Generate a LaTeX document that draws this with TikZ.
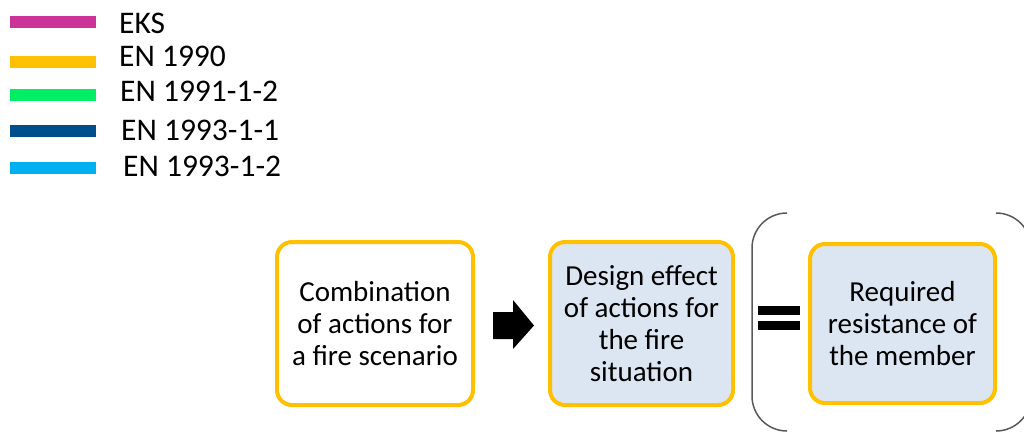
\documentclass[tikz,border=0pt]{standalone}
\usepackage{fontspec}
\setmainfont{Carlito}
\definecolor{eks}{HTML}{CC3399}
\definecolor{enA}{HTML}{FFC000}
\definecolor{enB}{HTML}{00EE66}
\definecolor{enC}{HTML}{004E8C}
\definecolor{enD}{HTML}{00B0F0}
\definecolor{boxfill}{HTML}{DCE6F2}
\definecolor{brk}{HTML}{595959}
\begin{document}
\begin{tikzpicture}[x=1pt,y=-1pt,
  legbar/.style={rectangle,inner sep=0pt,minimum width=86pt,minimum height=12pt},
  legtext/.style={anchor=base west,inner sep=0pt,font=\fontsize{31.5}{36}\selectfont},
  stepbox/.style={rectangle,rounded corners=15pt,draw=enA,line width=4pt,align=center,
    font=\fontsize{29}{32}\selectfont,inner sep=0pt},
  eqbar/.style={rectangle,fill=black,inner sep=0pt,minimum width=42pt,minimum height=9pt},
  brack/.style={draw=brk,line width=1.5pt,rounded corners=35pt},
  blockarrow/.style={fill=black}]
\useasboundingbox (0,0) rectangle (1024,432);
% legend
\node[legbar,fill=eks] (b1) at (53,22) {};
\node[legbar,fill=enA] (b2) at (52.5,62) {};
\node[legbar,fill=enB] (b3) at (53,95) {};
\node[legbar,fill=enC] (b4) at (52.5,131) {};
\node[legbar,fill=enD] (b5) at (53,168) {};
\node[legtext] (t1) at (119,33) {EKS};
\node[legtext] (t2) at (119,66.7) {EN 1990};
\node[legtext] (t3) at (120,101.5) {EN 1991-1-2};
\node[legtext] (t4) at (121,140) {EN 1993-1-1};
\node[legtext] (t5) at (123,176.7) {EN 1993-1-2};
% bracket pair
\draw[brack] (787,213) -- (752,213) -- (752,431) -- (787,431);
\draw[brack] (996,213) -- (1031,213) -- (1031,431) -- (996,431);
% boxes
\node[stepbox,fill=white,minimum width=196pt,minimum height=163pt] (c1) at (375,323.5)
  {Combination\\of actions for\\a fire scenario};
\node[stepbox,fill=boxfill,minimum width=183pt,minimum height=163pt] (c2) at (641.5,323.5)
  {Design effect\\of actions for\\the fire\\situation};
\node[stepbox,fill=boxfill,minimum width=185pt,minimum height=159pt] (c3) at (902.5,323.5)
  {Required\\resistance of\\the member};
% block arrow
\coordinate (arr) at (493,325.5);
\fill[blockarrow] (arr) ++(0,-13.5) -- ++(20,0) -- ++(0,-12) -- ++(21,25.5)
  -- ++(-21,23.5) -- ++(0,-10) -- ++(-20,0) -- cycle;
% equals sign
\node[eqbar] (e1) at (779,310.5) {};
\node[eqbar] (e2) at (779,325.5) {};
\end{tikzpicture}
\end{document}
